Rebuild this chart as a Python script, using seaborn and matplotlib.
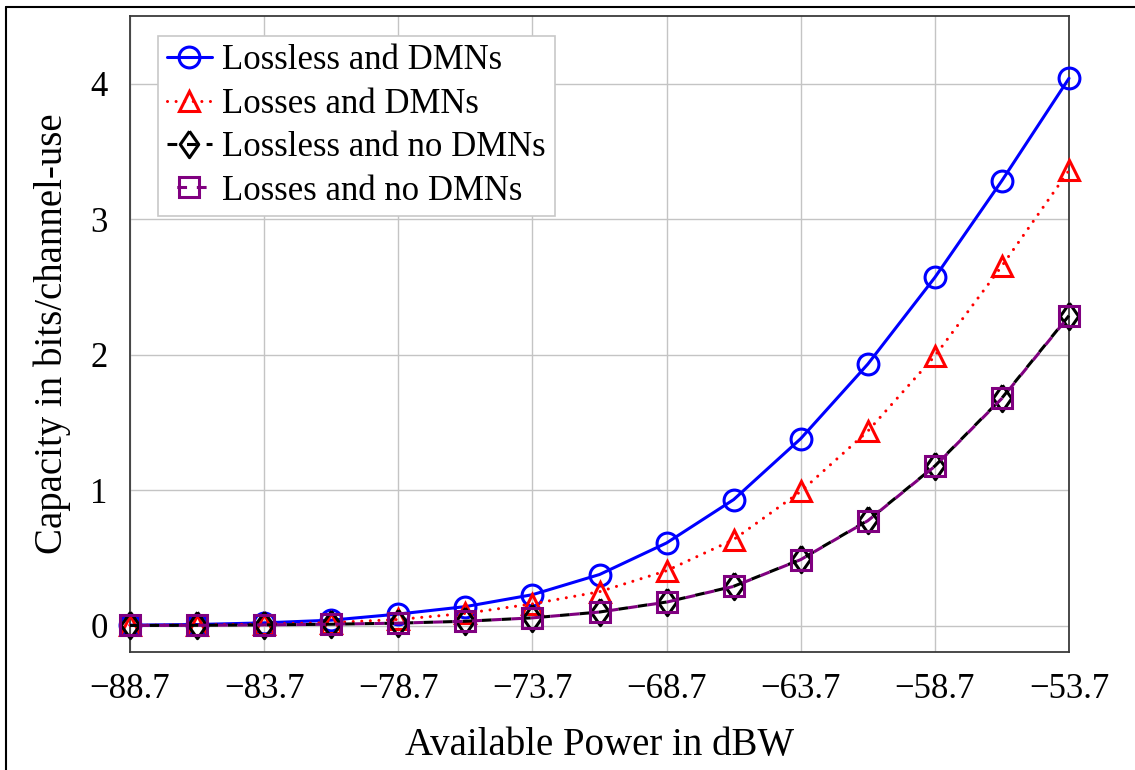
import numpy as np
import pandas as pd
import matplotlib
matplotlib.use("Agg")
import matplotlib.pyplot as plt
from matplotlib.lines import Line2D
from matplotlib.markers import MarkerStyle
import seaborn as sns

# Available power sweep (dBW)
power_dbw = [-88.7, -86.2, -83.7, -81.2, -78.7, -76.2, -73.7, -71.2,
             -68.7, -66.2, -63.7, -61.2, -58.7, -56.2, -53.7]

# Capacity in bits/channel-use for each configuration
cap_lossless_dmn = [0.003, 0.008, 0.02, 0.04, 0.085, 0.14, 0.228, 0.377,
                    0.61, 0.93, 1.38, 1.93, 2.57, 3.285, 4.04]
cap_losses_dmn = [0.002, 0.005, 0.011, 0.022, 0.045, 0.09, 0.16, 0.25,
                  0.405, 0.635, 0.99, 1.435, 1.99, 2.655, 3.36]
cap_lossless_nodmn = [0.001, 0.002, 0.005, 0.01, 0.018, 0.032, 0.057, 0.10,
                      0.174, 0.29, 0.488, 0.776, 1.178, 1.68, 2.288]
cap_losses_nodmn = [0.001, 0.002, 0.005, 0.01, 0.018, 0.032, 0.057, 0.10,
                    0.173, 0.289, 0.487, 0.774, 1.176, 1.677, 2.285]

series_names = ["Lossless and DMNs", "Losses and DMNs",
                "Lossless and no DMNs", "Losses and no DMNs"]

x_ticks = [-88.7, -83.7, -78.7, -73.7, -68.7, -63.7, -58.7, -53.7]
x_tick_labels = ["\u221288.7", "\u221283.7", "\u221278.7", "\u221273.7",
                 "\u221268.7", "\u221263.7", "\u221258.7", "\u221253.7"]
y_ticks = [0, 1, 2, 3, 4]
y_tick_labels = ["0", "1", "2", "3", "4"]

df = pd.DataFrame({
    "power": power_dbw * 4,
    "capacity": cap_lossless_dmn + cap_losses_dmn + cap_lossless_nodmn + cap_losses_nodmn,
    "config": sum([[n] * len(power_dbw) for n in series_names], []),
})

sns.set_theme(style="white")
plt.rcParams["font.family"] = ["Liberation Serif", "DejaVu Serif"]
plt.rcParams["text.color"] = "black"
plt.rcParams["axes.labelcolor"] = "black"
plt.rcParams["xtick.color"] = "black"
plt.rcParams["ytick.color"] = "black"

fig = plt.figure(figsize=(11.35, 7.7), dpi=100)
ax = fig.add_axes([130 / 1135, 1 - 652 / 770, (1069 - 130) / 1135, (652 - 16) / 770])

# diamond a little narrower than tall, sharp corners
diamond = MarkerStyle([(0, 1), (0.7, 0), (0, -1), (-0.7, 0), (0, 1)], joinstyle="miter")
triangle = MarkerStyle("^", joinstyle="miter")
square = MarkerStyle("s", joinstyle="miter")

lw = 2.2
styles = {
    "Lossless and DMNs": dict(color="#0000ff", marker="o", ms=15, ls="-", cap="butt"),
    "Losses and DMNs": dict(color="#ff0000", marker=triangle, ms=14, ls=(0, (0.01, 2.8)), cap="round"),
    "Lossless and no DMNs": dict(color="#000000", marker=diamond, ms=19, ls=(0, (3.2, 3.2)), cap="butt"),
    "Losses and no DMNs": dict(color="#800080", marker=square, ms=15, ls=(3.2, (3.2, 3.2)), cap="butt"),
}

for name in series_names:
    st = styles[name]
    sub = df[df["config"] == name]
    sns.lineplot(data=sub, x="power", y="capacity", ax=ax, label=name,
                 color=st["color"], marker=st["marker"], markersize=st["ms"],
                 markerfacecolor="none", markeredgecolor=st["color"],
                 markeredgewidth=lw, linewidth=lw, linestyle=st["ls"],
                 dash_capstyle=st["cap"], clip_on=False)

ax.set_xlim(-88.7, -53.7)
ax.set_ylim(-0.195, 4.5)
ax.set_xticks(x_ticks)
ax.set_xticklabels(x_tick_labels)
ax.set_yticks(y_ticks)
ax.set_yticklabels(y_tick_labels)

ax.grid(True, color="#c4c4c4", linewidth=1.0)
ax.set_axisbelow(True)
for sp in ax.spines.values():
    sp.set_color("#3a3a3a")
    sp.set_linewidth(1.3)
    sp.set_zorder(1.5)

ax.tick_params(axis="both", direction="out", length=8, width=1.0,
               color="#3a3a3a", labelcolor="black", labelsize=25, pad=7)
ax.tick_params(axis="y", pad=8)
ax.set_xlabel("Available Power in dBW", fontsize=28, labelpad=15, color="black")
ax.set_ylabel("Capacity in bits/channel-use", fontsize=28, labelpad=14, color="black")

leg = ax.legend(loc="upper left", bbox_to_anchor=(0.03, 0.969), fontsize=25,
                frameon=True, fancybox=False, framealpha=1.0, edgecolor="#c8c8c8",
                handlelength=1.3, handletextpad=0.3, labelspacing=0.3,
                borderpad=0.25, borderaxespad=0.0)
leg.get_frame().set_linewidth(1.2)
leg.set_zorder(5)
for t in leg.get_texts():
    t.set_color("black")

# outer frame around the figure
fig.add_artist(Line2D([6 / 1135, 6 / 1135], [0, 1 - 7 / 770], color="black",
                      linewidth=1.5, transform=fig.transFigure))
fig.add_artist(Line2D([6 / 1135, 1.0], [1 - 7 / 770, 1 - 7 / 770], color="black",
                      linewidth=1.5, transform=fig.transFigure))

fig.savefig("out.png", dpi=100)
